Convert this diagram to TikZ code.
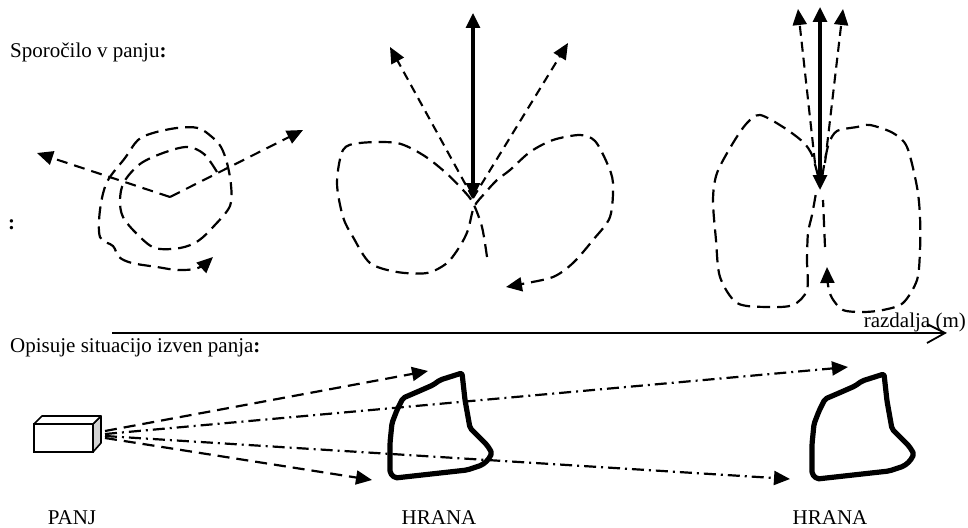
\documentclass[tikz,border=0pt]{standalone}
\usepackage{fontspec}
\setmainfont{Liberation Serif}
\usetikzlibrary{arrows.meta}
\begin{document}
\begin{tikzpicture}[x=1pt,y=-1pt,
  lbl/.style={font=\fontsize{21}{25}\selectfont, inner sep=0pt},
  tipA/.style={-{Triangle[length=16pt,width=14pt]}},
  loopline/.style={line width=2.2pt, dash pattern=on 13pt off 7pt, line cap=butt},
  darr/.style={line width=2.1pt, dash pattern=on 11pt off 7pt, tipA},
  solidarr/.style={line width=3.2pt, {Triangle[length=15pt,width=14pt]}-{Triangle[length=15pt,width=14pt]}},
  dot/.style={line width=2.2pt, dash pattern=on 12pt off 5pt on 2pt off 5pt, tipA},
  food/.style={line width=5.2pt, line join=round, rounded corners=2pt}
]
\useasboundingbox (0,0) rectangle (968,527);

% ---------- labels ----------
\node[lbl, anchor=base west] (t1) at (10,58) {Sporočilo v panju\textbf{:}};
\node[lbl, anchor=base west] (t2) at (8,229) {\textbf{:}};
\node[lbl, anchor=base west] (t3) at (10,352) {Opisuje situacijo izven panja\textbf{:}};
\node[lbl, anchor=base east] (t4) at (966,327) {razdalja (m)};
\node[lbl, anchor=base] (panjL) at (72,524) {PANJ};
\node[lbl, anchor=base] (hr1) at (439,524) {HRANA};
\node[lbl, anchor=base] (hr2) at (830,524) {HRANA};

% ---------- axis ----------
\coordinate (ax0) at (112,333);
\coordinate (ax1) at (945,333);
\draw[line width=1.8pt] (ax0) -- (ax1);
\draw[line width=1.8pt] (927,324) -- (ax1) -- (927,343);

% ---------- panel 1: circle dance ----------
\coordinate (c1) at (170,197);
\coordinate (c1l) at (37,153);
\coordinate (c1r) at (303,130);
\draw[darr] (c1) -- (c1l);
\draw[darr] (c1) -- (c1r);
\draw[loopline, tipA] plot[smooth, tension=0.55] coordinates {
 (217,172) (204,154) (187,147) (163,153) (140,164) (124,182) (120,200) (123,217)
 (137,234) (155,248) (180,248) (198,241) (214,226) (230,206) (231,185) (227,163)
 (221,147) (212,137) (198,128) (177,128) (153,133) (138,140) (125,158) (107,182)
 (100,210) (100,237) (113,246) (119,257) (132,263) (157,267) (178,270) (198,268) (213,257)};

% ---------- panel 2: waggle dance ----------
\coordinate (c2) at (473,198);
\coordinate (c2t) at (473,13);
\coordinate (c2l) at (390,47);
\coordinate (c2r) at (568,43);
\draw[solidarr] (c2) -- (c2t);
\draw[darr, dash pattern=on 9pt off 6pt] (c2) -- (c2l);
\draw[darr, dash pattern=on 9pt off 6pt] (c2) -- (c2r);
\draw[loopline, tipA] plot[smooth, tension=0.5] coordinates {
 (487,257) (482,227) (473,203) (463,190) (445,172) (423,155) (397,143) (360,143)
 (343,150) (337,183) (343,217) (353,237) (370,263) (397,272) (427,273) (447,263)
 (460,246) (468,230) (474,207) (485,193) (497,180) (510,170) (530,152) (553,140)
 (580,135) (595,141) (607,163) (613,183) (610,217) (593,240) (573,263) (553,277)
 (522,284) (506,287)};

% ---------- panel 3: waggle dance, far ----------
\coordinate (c3) at (820,190);
\coordinate (c3t) at (820,7);
\coordinate (c3a) at (815,163);
\coordinate (c3b) at (825,163);
\coordinate (c3l) at (798,9);
\coordinate (c3r) at (843,9);
\draw[solidarr] (c3) -- (c3t);
\draw[darr, dash pattern=on 10pt off 6pt] (c3a) -- (c3l);
\draw[darr, dash pattern=on 10pt off 6pt] (c3b) -- (c3r);
\draw[loopline] plot[smooth, tension=0.5] coordinates {
 (818,176) (812,155) (803,142) (783,127) (760,115) (747,123) (733,143) (717,173)
 (713,200) (716,240) (720,277) (737,303) (767,307) (793,305) (807,290) (807,260)
 (808,233) (812,215) (816,193)};
\draw[loopline, tipA] plot[smooth, tension=0.5] coordinates {
 (822,178) (825,160) (829,143) (837,131) (857,127) (870,125) (893,133) (907,147)
 (917,187) (920,217) (920,250) (917,280) (903,303) (883,310) (863,312) (843,310)
 (832,298) (828,285) (827,267)};
\draw[loopline] (825,247) -- (823,200);

% ---------- PANJ box ----------
\draw[line width=1.6pt, line join=round, fill=gray!35] (93,424) -- (101,416) -- (101,443) -- (93,452) -- cycle;
\draw[line width=1.6pt, line join=round, fill=white] (34,424) -- (42,416) -- (101,416) -- (93,424) -- cycle;
\draw[line width=1.6pt, fill=white] (34,424) rectangle (93,452);
\coordinate (p1) at (105,431);
\coordinate (p2) at (105,434);
\coordinate (p3) at (105,436);
\coordinate (p4) at (105,438);

% ---------- arrows to food ----------
\coordinate (f1) at (428,371);
\coordinate (f2) at (372,480);
\coordinate (f3) at (848,367);
\coordinate (f4) at (790,479);
\draw[darr, line width=2.2pt, dash pattern=on 12pt off 7pt] (p1) -- (f1);
\draw[dot] (p2) -- (f3);
\draw[dot] (p3) -- (f4);
\draw[darr, line width=2.2pt, dash pattern=on 12pt off 7pt] (p4) -- (f2);

% ---------- food ----------
\foreach \sx/\sy in {0/0, 422/1}{
\draw[food, shift={(\sx,\sy)}] (403,398) -- (417,392) -- (433,385) -- (440,380) -- (462,373)
 -- (465,400) -- (470,428) -- (487,445) -- (492,453) -- (488,460) -- (482,465)
 -- (467,470) -- (395,478) -- (390,473) -- (390,443) -- (392,423) -- (397,410) -- cycle;
}
\end{tikzpicture}
\end{document}
